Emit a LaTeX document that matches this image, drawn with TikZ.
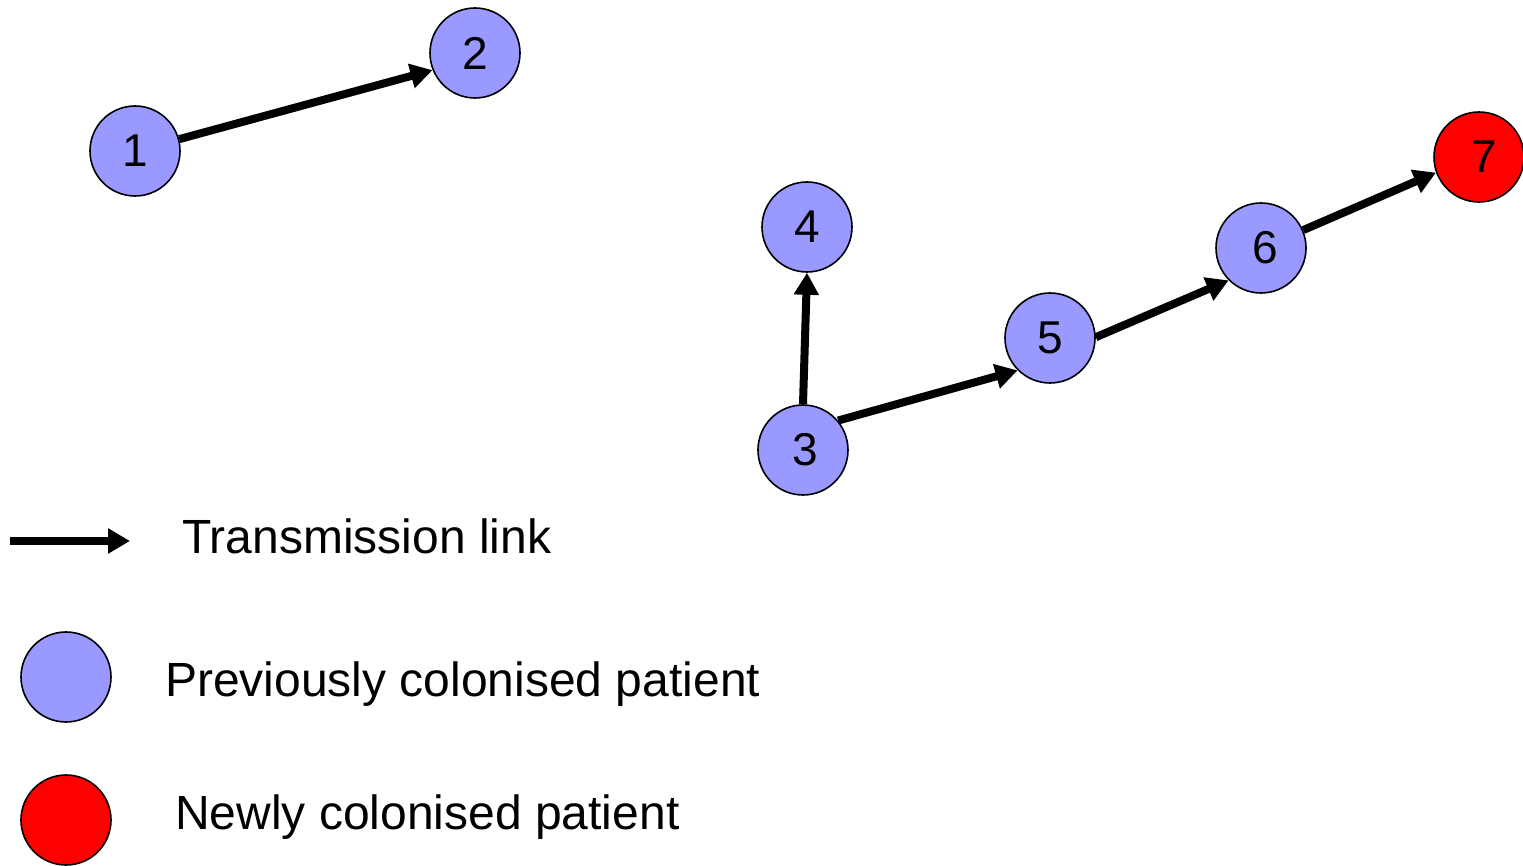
\documentclass[tikz,border=0pt]{standalone}
\usepackage{fontspec}
\setmainfont{Liberation Sans}
\usetikzlibrary{arrows.meta}
\definecolor{prevblue}{RGB}{153,153,255}
\definecolor{newred}{RGB}{255,0,0}
\tikzset{
  patient/.style={circle,draw=black,line width=1.6pt,fill=prevblue,minimum size=90pt,inner sep=0pt,font=\fontsize{46}{50}\selectfont},
  newpatient/.style={patient,fill=newred},
  link/.style={->,line width=8pt},
  legtext/.style={anchor=base west,inner sep=0pt,font=\fontsize{48}{56}\selectfont}
}

\begin{document}
\begin{tikzpicture}[line join=miter,>={Triangle[length=22pt,width=24pt]},x=1pt,y=1pt]
	\useasboundingbox (0,0) rectangle (1523,865);
	% patients
	\node[patient] (p1) at (135,714) {1};
	\node[patient] (p2) at (475,812) {2};
	\node[patient] (p3) at (803,415) {\hspace{4pt}3};
	\node[patient] (p4) at (807,638) {4};
	\node[patient] (p5) at (1050,527) {5};
	\node[patient] (p6) at (1261,617) {\hspace{8pt}6};
	\node[newpatient] (p7) at (1479,708) {\hspace{10pt}7};
	% transmission links
	\draw[link] (p1.15) -- (p2.202);
	\draw[link] (p3.north) -- (p4.south);
	\draw[link] (p3.40) -- (p5.225);
	\draw[link] (p5.1) -- (p6.225);
	\draw[link] (p6.23) -- (p7.200);
	% legend
	\coordinate (legtail) at (10,324);
	\coordinate (leghead) at (130,324);
	\draw[link] (legtail) -- (leghead);
	\node[legtext] (legl) at (182,311) {Transmission link};
	\node[patient] (legprev) at (66,188) {};
	\node[legtext] (legp) at (165,168) {Previously colonised patient};
	\node[newpatient] (legnew) at (66,45) {};
	\node[legtext] (legn) at (175,36) {Newly colonised patient};
\end{tikzpicture}
\end{document}
